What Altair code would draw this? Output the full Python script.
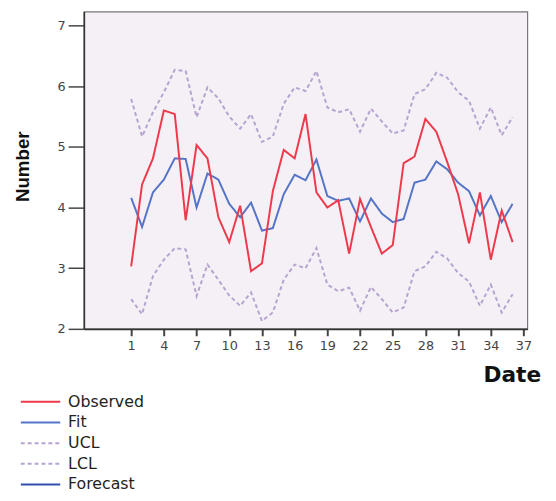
import altair as alt
import pandas as pd

dates = list(range(1, 37))
observed = [3.03, 4.38, 4.81, 5.60, 5.54, 3.79, 5.03, 4.81, 3.84, 3.43,
            4.03, 2.95, 3.08, 4.27, 4.95, 4.81, 5.54, 4.25, 4.00, 4.12,
            3.24, 4.14, 3.68, 3.24, 3.38, 4.73, 4.84, 5.46, 5.25, 4.75,
            4.22, 3.41, 4.25, 3.14, 3.95, 3.43]
fit = [4.16, 3.68, 4.25, 4.46, 4.81, 4.80, 4.00, 4.56, 4.46, 4.06,
       3.84, 4.08, 3.62, 3.66, 4.22, 4.54, 4.45, 4.79, 4.19, 4.11,
       4.15, 3.77, 4.15, 3.90, 3.76, 3.81, 4.41, 4.46, 4.76, 4.63,
       4.41, 4.27, 3.87, 4.19, 3.76, 4.06]
ucl = [5.79, 5.17, 5.57, 5.90, 6.27, 6.25, 5.49, 5.98, 5.80, 5.50,
       5.30, 5.54, 5.08, 5.17, 5.71, 5.98, 5.92, 6.25, 5.65, 5.57,
       5.62, 5.25, 5.63, 5.42, 5.22, 5.27, 5.87, 5.95, 6.22, 6.14,
       5.90, 5.76, 5.30, 5.65, 5.19, 5.49]
lcl = [2.49, 2.24, 2.87, 3.14, 3.33, 3.31, 2.54, 3.06, 2.81, 2.55,
       2.38, 2.60, 2.13, 2.27, 2.81, 3.06, 3.00, 3.33, 2.73, 2.62,
       2.68, 2.30, 2.69, 2.49, 2.27, 2.35, 2.95, 3.03, 3.27, 3.16,
       2.92, 2.78, 2.38, 2.73, 2.27, 2.57]

series_names = ["Observed", "Fit", "UCL", "LCL", "Forecast"]
series_colors = ["#ec3a4c", "#5474c8", "#b6a4d0", "#b6a4d0", "#2f4fae"]
series_dash = [[1, 0], [1, 0], [4, 3], [4, 3], [1, 0]]
series_width = [2, 2, 1.6, 1.6, 3]
x_ticks = list(range(1, 38, 3))
y_ticks = [2, 3, 4, 5, 6, 7]

rows = []
for name, vals in [("UCL", ucl), ("LCL", lcl), ("Fit", fit), ("Observed", observed)]:
    for d, v in zip(dates, vals):
        rows.append({"Date": d, "Number": v, "series": name})
df = pd.DataFrame(rows)

font = "DejaVu Sans"

chart = alt.Chart(df).mark_line(strokeJoin="miter").encode(
    x=alt.X("Date:Q",
            scale=alt.Scale(domain=[-3.34, 37.35], nice=False, zero=False),
            axis=alt.Axis(values=x_ticks, grid=False, title="Date",
                          titleX=405, titleY=53, titleAlign="left",
                          titleBaseline="alphabetic", titleFont=font,
                          titleFontSize=22, titleFontWeight="bold",
                          titleColor="#111",
                          tickSize=7, tickWidth=2, tickColor="#444",
                          labelPadding=4, labelFlush=False)),
    y=alt.Y("Number:Q",
            scale=alt.Scale(domain=[2, 7.23], nice=False, zero=False),
            axis=alt.Axis(values=y_ticks, grid=False, title="Number",
                          titleX=-52, titleY=157, titleAngle=270,
                          titleAlign="center", titleBaseline="bottom",
                          titleFont="Liberation Sans",
                          titleFontSize=19, titleFontWeight="bold",
                          titleColor="#111",
                          tickSize=16, tickWidth=1.5, tickColor="#444",
                          labelPadding=3)),
    color=alt.Color("series:N", title=None,
                    scale=alt.Scale(domain=series_names, range=series_colors)),
    strokeDash=alt.StrokeDash("series:N", title=None,
                              scale=alt.Scale(domain=series_names, range=series_dash)),
    strokeWidth=alt.StrokeWidth("series:N", title=None,
                                scale=alt.Scale(domain=series_names, range=series_width)),
    detail="series:N",
).properties(
    width=450,
    height=322,
    autosize=alt.AutoSizeParams(type="none"),
    padding={"left": 77, "top": 0, "right": 21, "bottom": 165},
).configure_view(
    fill="#f5f0f5", stroke="#777", strokeWidth=1.2
).configure_axis(
    domainColor="#333", domainWidth=1.6,
    labelFont=font, labelFontSize=13, labelColor="#444",
).configure_legend(
    orient="none", legendX=-55, legendY=385, padding=0,
    symbolType="M-2,0H2", symbolSize=400,
    labelFont=font, labelFontSize=16, labelColor="#222",
    labelOffset=17, rowPadding=2, titlePadding=0,
)

chart.save("out.html", embed_options={"renderer": "svg", "actions": False})
